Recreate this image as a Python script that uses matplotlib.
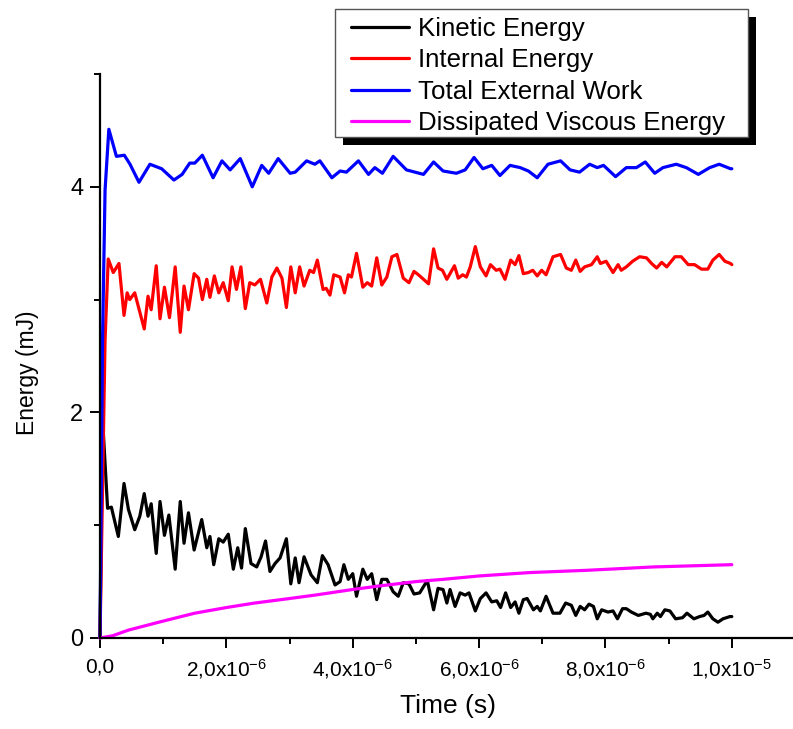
import numpy as np
import matplotlib
matplotlib.use('Agg')
import matplotlib.pyplot as plt
from matplotlib.ticker import MultipleLocator, FuncFormatter
from matplotlib.patches import Rectangle

plt.rcParams['font.family'] = ['Liberation Sans', 'DejaVu Sans']
plt.rcParams['mathtext.fontset'] = 'custom'
plt.rcParams['mathtext.rm'] = 'Liberation Sans'
plt.rcParams['mathtext.default'] = 'regular'

# time in microseconds, energies in mJ
t_ke = [0, 0.04, 0.08, 0.12, 0.18, 0.29, 0.38, 0.45, 0.55, 0.63, 0.70, 0.76, 0.81, 0.89, 0.95,
        1.02, 1.09, 1.19, 1.27, 1.33, 1.40, 1.49, 1.61, 1.69, 1.74, 1.80, 1.88, 1.95, 2.03,
        2.11, 2.18, 2.24, 2.30, 2.39, 2.48, 2.55, 2.62, 2.69, 2.77, 2.85, 2.95, 3.02, 3.09,
        3.15, 3.23, 3.34, 3.44, 3.52, 3.61, 3.72, 3.80, 3.86, 3.93, 4.00, 4.06, 4.16, 4.23,
        4.30, 4.38, 4.46, 4.54, 4.64, 4.72, 4.80, 4.89, 4.97, 5.06, 5.18, 5.28, 5.35, 5.43,
        5.49, 5.54, 5.62, 5.70, 5.78, 5.84, 5.94, 6.02, 6.11, 6.20, 6.28, 6.34, 6.42, 6.50,
        6.57, 6.63, 6.70, 6.76, 6.86, 6.92, 6.97, 7.06, 7.17, 7.28, 7.37, 7.46, 7.53, 7.60,
        7.67, 7.74, 7.81, 7.87, 7.94, 8.04, 8.12, 8.19, 8.27, 8.33, 8.41, 8.52, 8.64, 8.71,
        8.75, 8.82, 8.87, 8.94, 9.02, 9.11, 9.22, 9.29, 9.40, 9.49, 9.56, 9.62, 9.70, 9.78,
        9.86, 9.97, 10.0]
ke = [0, 1.95, 1.55, 1.15, 1.16, 0.90, 1.37, 1.14, 0.96, 1.08, 1.28, 1.08, 1.19, 0.75, 1.21,
      0.91, 1.09, 0.61, 1.21, 0.84, 1.11, 0.78, 1.05, 0.80, 0.90, 0.65, 0.88, 0.85, 0.92,
      0.61, 0.80, 0.62, 0.97, 0.66, 0.63, 0.72, 0.86, 0.59, 0.66, 0.71, 0.88, 0.48, 0.71,
      0.49, 0.72, 0.56, 0.49, 0.73, 0.65, 0.47, 0.50, 0.65, 0.52, 0.57, 0.37, 0.61, 0.52,
      0.57, 0.34, 0.52, 0.52, 0.41, 0.37, 0.49, 0.48, 0.39, 0.40, 0.51, 0.25, 0.44, 0.43,
      0.31, 0.43, 0.28, 0.40, 0.38, 0.40, 0.24, 0.35, 0.40, 0.32, 0.33, 0.27, 0.40, 0.27,
      0.32, 0.22, 0.34, 0.35, 0.25, 0.28, 0.24, 0.37, 0.22, 0.22, 0.31, 0.29, 0.20, 0.28,
      0.25, 0.30, 0.28, 0.17, 0.25, 0.23, 0.24, 0.17, 0.26, 0.26, 0.23, 0.20, 0.22, 0.21,
      0.17, 0.22, 0.19, 0.25, 0.24, 0.17, 0.18, 0.22, 0.17, 0.19, 0.20, 0.23, 0.17, 0.14,
      0.17, 0.19, 0.19]

t_ie = [0, 0.08, 0.13, 0.21, 0.30, 0.38, 0.43, 0.47, 0.55, 0.62, 0.70, 0.76, 0.81, 0.89, 0.95,
        1.02, 1.10, 1.19, 1.27, 1.33, 1.40, 1.49, 1.56, 1.62, 1.69, 1.74, 1.81, 1.88, 1.95,
        2.03, 2.09, 2.16, 2.23, 2.30, 2.37, 2.45, 2.54, 2.64, 2.72, 2.80, 2.88, 2.95, 3.02,
        3.09, 3.16, 3.23, 3.32, 3.38, 3.44, 3.53, 3.58, 3.64, 3.70, 3.80, 3.87, 3.93, 3.98,
        4.06, 4.16, 4.23, 4.30, 4.38, 4.46, 4.54, 4.62, 4.70, 4.80, 4.89, 4.97, 5.04, 5.12,
        5.20, 5.28, 5.35, 5.42, 5.49, 5.61, 5.67, 5.74, 5.80, 5.86, 5.94, 6.02, 6.11, 6.18,
        6.27, 6.33, 6.41, 6.50, 6.57, 6.63, 6.70, 6.78, 6.85, 6.92, 6.99, 7.06, 7.17, 7.29,
        7.38, 7.46, 7.53, 7.60, 7.67, 7.78, 7.87, 7.92, 8.01, 8.12, 8.20, 8.25, 8.33, 8.43,
        8.54, 8.65, 8.73, 8.81, 8.89, 8.97, 9.10, 9.20, 9.31, 9.41, 9.52, 9.62, 9.70, 9.80,
        9.89, 9.98, 10.0]
ie = [0, 2.64, 3.36, 3.24, 3.32, 2.86, 3.06, 3.00, 3.06, 2.91, 2.74, 3.03, 2.91, 3.30, 2.83,
      3.11, 2.84, 3.29, 2.71, 3.12, 2.91, 3.23, 3.19, 3.00, 3.18, 3.02, 3.21, 3.06, 3.15,
      2.99, 3.29, 3.09, 3.29, 2.92, 3.15, 3.13, 3.18, 2.97, 3.20, 3.28, 3.19, 2.93, 3.29,
      3.06, 3.29, 3.12, 3.26, 3.24, 3.35, 3.09, 3.10, 3.04, 3.22, 3.20, 3.06, 3.22, 3.20,
      3.41, 3.11, 3.15, 3.12, 3.37, 3.13, 3.20, 3.38, 3.40, 3.19, 3.15, 3.25, 3.22, 3.18,
      3.14, 3.45, 3.28, 3.26, 3.18, 3.30, 3.19, 3.22, 3.20, 3.29, 3.47, 3.29, 3.21, 3.31,
      3.26, 3.27, 3.18, 3.35, 3.31, 3.39, 3.23, 3.24, 3.26, 3.21, 3.26, 3.22, 3.38, 3.40,
      3.28, 3.26, 3.35, 3.25, 3.29, 3.31, 3.38, 3.32, 3.34, 3.24, 3.31, 3.26, 3.29, 3.34,
      3.38, 3.37, 3.32, 3.28, 3.33, 3.29, 3.38, 3.38, 3.31, 3.31, 3.27, 3.27, 3.35, 3.40,
      3.34, 3.32, 3.31]

t_ew = [0, 0.04, 0.08, 0.14, 0.26, 0.385, 0.475, 0.617, 0.79, 0.976, 1.17, 1.30, 1.42, 1.50,
        1.62, 1.79, 1.93, 2.06, 2.22, 2.41, 2.56, 2.67, 2.82, 3.01, 3.09, 3.27, 3.40, 3.48,
        3.67, 3.80, 3.90, 4.09, 4.25, 4.35, 4.47, 4.64, 4.85, 5.12, 5.28, 5.43, 5.64, 5.78,
        5.92, 6.06, 6.20, 6.33, 6.49, 6.65, 6.78, 6.92, 7.09, 7.29, 7.44, 7.59, 7.75, 7.87,
        7.97, 8.16, 8.33, 8.49, 8.63, 8.78, 8.91, 9.12, 9.28, 9.47, 9.65, 9.80, 9.98, 10.0]
ew = [0, 2.64, 3.97, 4.51, 4.27, 4.28, 4.20, 4.04, 4.20, 4.16, 4.06, 4.11, 4.21, 4.21,
      4.28, 4.08, 4.23, 4.15, 4.25, 4.00, 4.19, 4.12, 4.25, 4.12, 4.13, 4.23, 4.20, 4.23,
      4.08, 4.14, 4.13, 4.23, 4.11, 4.17, 4.12, 4.27, 4.15, 4.11, 4.22, 4.14, 4.12, 4.15,
      4.26, 4.16, 4.19, 4.10, 4.19, 4.17, 4.14, 4.08, 4.20, 4.23, 4.15, 4.13, 4.20, 4.17,
      4.19, 4.09, 4.17, 4.17, 4.22, 4.12, 4.17, 4.20, 4.17, 4.11, 4.17, 4.20, 4.16, 4.16]

t_dv = [0, 0.2, 0.45, 1.0, 1.5, 2.0, 2.45, 3.0, 3.4, 4.0, 4.4, 5.0, 5.43, 6.0, 6.8, 7.7,
        8.76, 10.0]
dv = [0, 0.02, 0.07, 0.15, 0.22, 0.27, 0.31, 0.35, 0.38, 0.43, 0.46, 0.50, 0.52, 0.55,
      0.58, 0.60, 0.63, 0.65]

labels = ['Kinetic Energy', 'Internal Energy', 'Total External Work', 'Dissipated Viscous Energy']
colors = ['black', '#ff0000', '#0000ff', '#ff00ff']

W, H = 793, 729
fig = plt.figure(figsize=(W / 100, H / 100), dpi=100)
ax = fig.add_axes([100 / W, 1 - 638 / H, 695 / W, (638 - 74) / H])

series = [(t_ke, ke), (t_ie, ie), (t_ew, ew), (t_dv, dv)]
handles = []
for (tt, ee), c, lab in zip(series, colors, labels):
    h, = ax.plot(np.array(tt) * 1e-6, ee, '-', color=c, lw=2.3, label=lab, clip_on=False,
                 solid_joinstyle='round', solid_capstyle='round')
    handles.append(h)

ax.set_xlim(0, 1.1e-5)
ax.set_ylim(0, 5)
ax.xaxis.set_major_locator(MultipleLocator(2e-6))
ax.xaxis.set_minor_locator(MultipleLocator(1e-6))
ax.yaxis.set_major_locator(MultipleLocator(2))
ax.yaxis.set_minor_locator(MultipleLocator(1))


def fmt(v, pos):
    if abs(v) < 1e-12:
        return '0,0'
    if v < 0:
        return ''
    e = int(np.floor(np.log10(v) + 1e-9))
    m = v / 10 ** e
    return ('%.1f' % m).replace('.', ',') + 'x10$^{%d}$' % e


ax.xaxis.set_major_formatter(FuncFormatter(fmt))
for s in ['top', 'right']:
    ax.spines[s].set_visible(False)
for s in ['left', 'bottom']:
    ax.spines[s].set_linewidth(1.6)
ax.tick_params(which='major', direction='out', length=7, width=1.4)
ax.tick_params(which='minor', direction='out', length=4.5, width=1.4)
ax.tick_params(axis='x', which='major', labelsize=15, pad=7)
ax.tick_params(axis='y', which='major', labelsize=17, pad=5)

ax.set_xlabel('Time (s)', fontsize=19, labelpad=9)
ax.set_ylabel('Energy (mJ)', fontsize=16.5)
ax.yaxis.set_label_coords(-0.088, 0.47)

leg = fig.legend(handles, labels, loc='center left', bbox_to_anchor=(351 / W, 1 - 76 / H),
                 borderaxespad=0, borderpad=0, fontsize=18.6, frameon=False,
                 handlelength=2.25, handletextpad=0.33, labelspacing=0.29)
leg.set_zorder(10)

# legend box with a black drop shadow, like the original
bx0, by0, bx1, by1 = 335, 9, 748, 137
frame = Rectangle((bx0 / W, 1 - by1 / H), (bx1 - bx0) / W, (by1 - by0) / H,
                  transform=fig.transFigure, facecolor='white', edgecolor='#555555',
                  lw=1.0, zorder=9)
shadow = Rectangle(((bx0 + 8) / W, 1 - (by1 + 8) / H), (bx1 - bx0) / W, (by1 - by0) / H,
                   transform=fig.transFigure, facecolor='black', edgecolor='none', zorder=8)
fig.patches.extend([shadow, frame])

fig.savefig('out.png', dpi=100)
